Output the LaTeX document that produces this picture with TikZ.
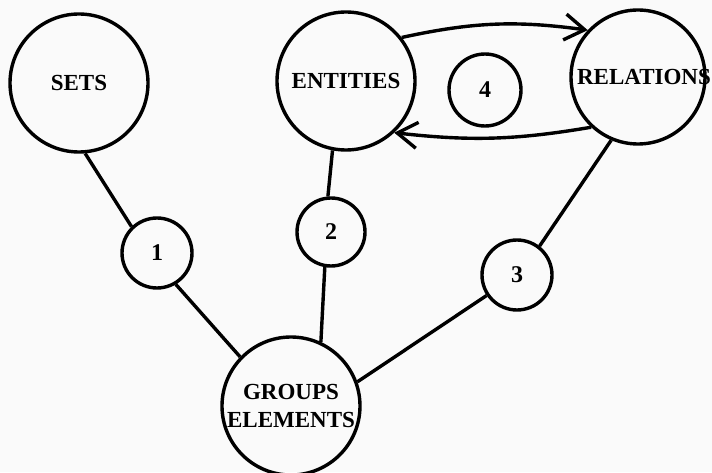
\documentclass[tikz,border=0pt]{standalone}
\usepackage{fontspec}
\setmainfont{Liberation Serif}
\usetikzlibrary{arrows.meta}

\begin{document}
\begin{tikzpicture}[x=0.5pt,y=0.5pt,
  big/.style={circle,draw,line width=1.7pt,inner sep=0pt,minimum size=69pt,
    font=\fontsize{11.5}{14}\selectfont\bfseries,align=center},
  small/.style={circle,draw,line width=1.7pt,inner sep=0pt,minimum size=35pt,
    font=\fontsize{12}{14}\selectfont\bfseries},
  link/.style={line width=1.7pt},
  flow/.style={line width=1.7pt,-{Straight Barb[length=10pt,width=13pt,line width=1.7pt]}}]
\fill[gray!4] (0,0) rectangle (712,472);
\useasboundingbox (0,0) rectangle (712,472);
% the five concept circles
\node[big] (sets) at (79,389) {SETS};
\node[big] (ent) at (346,391) {ENTITIES};
\node[big,minimum size=67pt] (rel) at (638,395) {\makebox[0pt]{\hspace*{6pt}RELATIONS}};
\node[big] (grp) at (291,66) {GROUPS\\ELEMENTS};
% numbered links
\node[small] (one) at (157,219) {1};
\node[small,minimum size=34pt] (two) at (331,240) {2};
\node[small] (three) at (517,197) {3};
\node[small,minimum size=36pt] (four) at (485,382) {4};
\foreach \a/\b in {sets.-85/one.134, one.-59/grp.136, ent.-101/two.95,
    two.-100/grp.65, rel.-113/three.52, three.214/grp.20}{
  \draw[link] (\a) -- (\b);
}
\draw[flow] (ent.38) to[bend left=10] (rel.137);
\draw[flow] (rel.227) to[bend left=8] (ent.-47);
\end{tikzpicture}
\end{document}
